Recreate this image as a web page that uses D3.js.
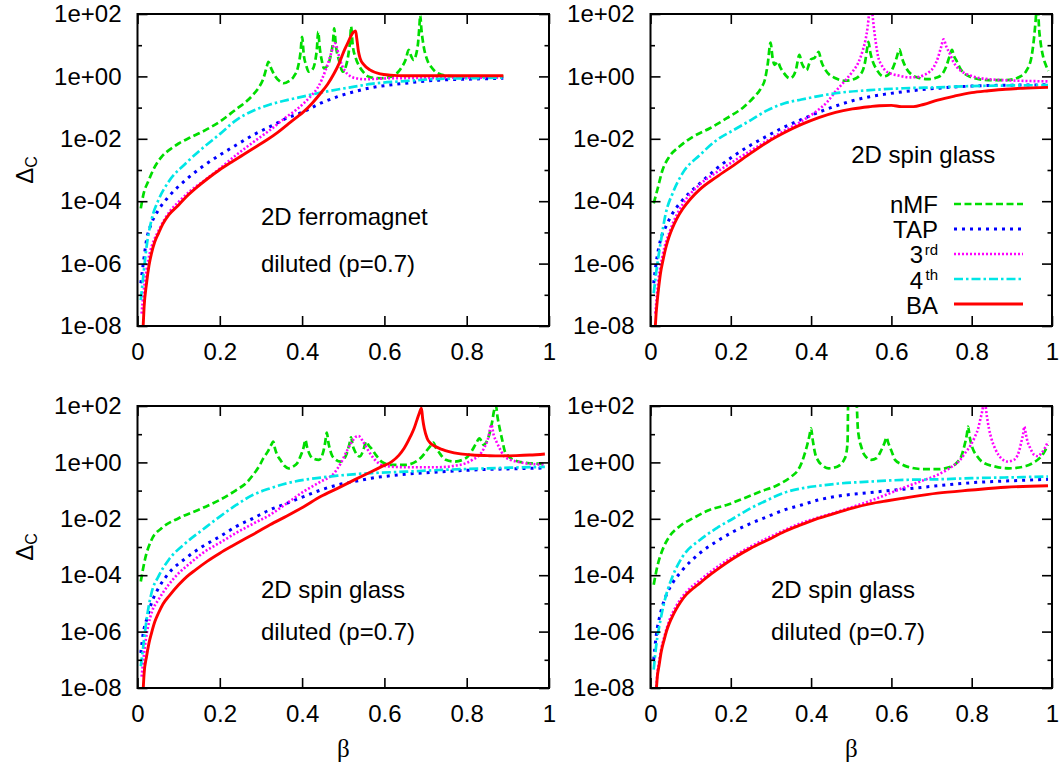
<!DOCTYPE html>
<html><head><meta charset="utf-8">
<script src="https://cdn.jsdelivr.net/npm/d3@7"></script>
<style>body{margin:0;background:#fff}</style>
</head><body><svg id="c" width="1063" height="764"></svg>
<script>
// ---------- axis ticks ----------
const xTicks = [0, 0.2, 0.4, 0.6, 0.8, 1];
const xTickLabels = ["0", "0.2", "0.4", "0.6", "0.8", "1"];
const yMajorTicks = [1e2, 1e0, 1e-2, 1e-4, 1e-6, 1e-8];
const yMajorLabels = ["1e+02", "1e+00", "1e-02", "1e-04", "1e-06", "1e-08"];
const yMinorTicks = [1e1, 1e-1, 1e-3, 1e-5, 1e-7];
const seriesNames = ["nMF", "TAP", "3rd", "4th", "BA"];

// ---------- data: [beta, log10(Delta_C)] ----------
// Panel 1: 2D ferromagnet, diluted (p=0.7)
const P1_nMF = [[0.008,-4.23],[0.015,-3.75],[0.026,-3.37],[0.04,-2.95],[0.059,-2.57],[0.08,-2.33],[0.10,-2.15],[0.13,-1.95],[0.158,-1.77],[0.20,-1.45],[0.24,-1.05],[0.265,-0.8],[0.28,-0.6],[0.295,-0.35],[0.305,-0.1],[0.313,0.25],[0.318,0.47],[0.325,0.25],[0.335,0.0],[0.345,-0.15],[0.355,-0.22],[0.368,-0.15],[0.38,0.0],[0.39,0.3],[0.396,0.75],[0.400,1.27],[0.404,0.7],[0.41,0.35],[0.416,0.15],[0.425,0.22],[0.432,0.5],[0.436,0.9],[0.439,1.43],[0.443,0.9],[0.448,0.5],[0.453,0.26],[0.462,0.35],[0.47,0.7],[0.475,1.1],[0.478,1.54],[0.482,1.0],[0.49,0.5],[0.499,0.15],[0.507,0.35],[0.513,0.75],[0.517,1.2],[0.519,1.60],[0.523,1.0],[0.53,0.6],[0.54,0.30],[0.55,0.12],[0.56,0.0],[0.575,-0.05],[0.593,-0.06],[0.61,-0.03],[0.626,0.05],[0.64,0.25],[0.652,0.55],[0.659,0.85],[0.665,0.65],[0.671,0.53],[0.677,0.7],[0.682,1.1],[0.685,1.6],[0.687,1.97],[0.690,1.5],[0.695,1.0],[0.704,0.53],[0.714,0.3],[0.724,0.15],[0.74,0.05],[0.757,0.01],[0.80,0.0],[0.85,0.0],[0.889,0.0]];
const P1_TAP = [[0.008,-6.63],[0.014,-6.0],[0.022,-5.24],[0.034,-4.71],[0.051,-4.28],[0.076,-3.85],[0.117,-3.32],[0.158,-2.89],[0.2,-2.52],[0.24,-2.2],[0.281,-1.88],[0.322,-1.61],[0.363,-1.34],[0.404,-1.13],[0.445,-0.86],[0.486,-0.65],[0.527,-0.49],[0.568,-0.36],[0.61,-0.28],[0.65,-0.22],[0.7,-0.15],[0.733,-0.12],[0.8,-0.09],[0.889,-0.06]];
const P1_3rd = [[0.01,-7.6],[0.015,-6.9],[0.022,-6.2],[0.03,-5.65],[0.04,-5.25],[0.051,-4.95],[0.065,-4.6],[0.08,-4.3],[0.1,-4.02],[0.13,-3.65],[0.158,-3.38],[0.2,-2.95],[0.24,-2.52],[0.28,-2.12],[0.322,-1.72],[0.363,-1.29],[0.385,-1.08],[0.404,-0.86],[0.422,-0.62],[0.437,-0.38],[0.448,-0.1],[0.457,0.2],[0.465,0.5],[0.472,0.8],[0.477,1.0],[0.48,1.06],[0.484,0.95],[0.49,0.63],[0.497,0.35],[0.503,0.2],[0.51,0.08],[0.519,-0.01],[0.535,-0.07],[0.552,-0.09],[0.58,-0.08],[0.61,-0.06],[0.7,-0.05],[0.8,-0.04],[0.889,-0.04]];
const P1_4th = [[0.008,-7.17],[0.014,-6.4],[0.022,-5.46],[0.034,-4.6],[0.051,-3.96],[0.076,-3.37],[0.117,-2.79],[0.158,-2.3],[0.2,-1.85],[0.24,-1.4],[0.281,-1.1],[0.322,-0.9],[0.363,-0.76],[0.404,-0.64],[0.445,-0.52],[0.486,-0.42],[0.527,-0.33],[0.568,-0.24],[0.65,-0.15],[0.733,-0.08],[0.8,-0.06],[0.889,-0.04]];
const P1_BA = [[0.013,-8.2],[0.016,-7.4],[0.022,-6.63],[0.028,-6.05],[0.034,-5.67],[0.042,-5.3],[0.051,-5.03],[0.062,-4.72],[0.076,-4.44],[0.1,-4.12],[0.12,-3.84],[0.141,-3.59],[0.17,-3.28],[0.199,-3.0],[0.228,-2.75],[0.256,-2.52],[0.285,-2.28],[0.314,-2.04],[0.34,-1.8],[0.363,-1.56],[0.385,-1.33],[0.404,-1.13],[0.425,-0.85],[0.445,-0.54],[0.462,-0.25],[0.478,0.1],[0.49,0.42],[0.503,0.85],[0.512,1.1],[0.519,1.3],[0.525,1.42],[0.530,1.46],[0.533,1.2],[0.537,0.8],[0.541,0.58],[0.55,0.38],[0.565,0.21],[0.59,0.08],[0.614,0.04],[0.65,0.02],[0.7,0.02],[0.8,0.02],[0.889,0.02]];

// Panel 2: 2D spin glass
const P2_nMF = [[0.008,-4.07],[0.017,-3.64],[0.03,-3.0],[0.047,-2.57],[0.072,-2.25],[0.106,-1.93],[0.148,-1.66],[0.19,-1.34],[0.233,-0.97],[0.255,-0.7],[0.275,-0.38],[0.285,-0.1],[0.292,0.4],[0.299,1.08],[0.304,0.6],[0.309,0.37],[0.317,0.47],[0.323,0.3],[0.33,0.15],[0.347,-0.06],[0.355,0.0],[0.362,0.2],[0.371,0.69],[0.376,0.45],[0.381,0.31],[0.389,0.2],[0.395,0.4],[0.4,0.55],[0.409,0.6],[0.414,0.7],[0.419,0.79],[0.425,0.5],[0.436,0.2],[0.461,-0.06],[0.486,-0.14],[0.512,-0.06],[0.522,0.05],[0.529,0.2],[0.535,0.5],[0.539,0.85],[0.543,1.11],[0.547,0.8],[0.553,0.5],[0.562,0.25],[0.58,0.0],[0.592,0.05],[0.605,0.31],[0.613,0.6],[0.62,0.87],[0.626,0.6],[0.635,0.31],[0.651,0.05],[0.67,-0.05],[0.69,-0.09],[0.715,-0.03],[0.728,0.1],[0.736,0.3],[0.745,0.65],[0.751,0.85],[0.756,0.65],[0.761,0.53],[0.774,0.2],[0.8,-0.03],[0.842,-0.12],[0.887,-0.12],[0.92,-0.01],[0.937,0.2],[0.949,0.63],[0.955,1.2],[0.958,1.6],[0.962,2.1],[0.965,2.1],[0.968,1.5],[0.972,1.05],[0.978,0.63],[0.985,0.35],[0.991,0.18]];
const P2_TAP = [[0.008,-6.63],[0.014,-5.99],[0.025,-5.24],[0.038,-4.82],[0.055,-4.39],[0.08,-3.96],[0.123,-3.43],[0.165,-2.95],[0.207,-2.55],[0.25,-2.2],[0.292,-1.9],[0.334,-1.62],[0.376,-1.38],[0.419,-1.15],[0.461,-0.95],[0.503,-0.78],[0.546,-0.65],[0.59,-0.56],[0.63,-0.49],[0.715,-0.38],[0.8,-0.31],[0.9,-0.28],[0.99,-0.27]];
const P2_3rd = [[0.012,-7.6],[0.02,-6.5],[0.03,-5.75],[0.05,-4.9],[0.08,-4.1],[0.12,-3.5],[0.165,-3.07],[0.207,-2.72],[0.25,-2.38],[0.292,-2.05],[0.334,-1.74],[0.376,-1.44],[0.41,-1.15],[0.44,-0.82],[0.461,-0.48],[0.486,-0.12],[0.503,0.15],[0.518,0.45],[0.529,0.85],[0.536,1.2],[0.541,1.6],[0.545,2.1],[0.548,2.5],[0.552,2.1],[0.556,1.6],[0.561,1.1],[0.567,0.63],[0.575,0.38],[0.584,0.2],[0.6,0.08],[0.613,0.04],[0.647,-0.03],[0.665,-0.02],[0.681,0.04],[0.695,0.15],[0.706,0.31],[0.716,0.6],[0.724,0.95],[0.73,1.19],[0.737,0.95],[0.745,0.74],[0.755,0.45],[0.766,0.26],[0.783,0.1],[0.8,0.01],[0.842,-0.09],[0.9,-0.13],[0.99,-0.16]];
const P2_4th = [[0.008,-6.95],[0.014,-6.3],[0.025,-5.35],[0.038,-4.39],[0.055,-3.75],[0.08,-3.1],[0.123,-2.52],[0.165,-2.04],[0.207,-1.72],[0.25,-1.4],[0.292,-1.08],[0.334,-0.86],[0.376,-0.74],[0.419,-0.63],[0.461,-0.54],[0.546,-0.44],[0.63,-0.38],[0.715,-0.35],[0.8,-0.31],[0.9,-0.29],[0.99,-0.28]];
const P2_BA = [[0.011,-8.2],[0.014,-7.6],[0.017,-7.17],[0.021,-6.7],[0.025,-6.3],[0.031,-5.9],[0.038,-5.5],[0.046,-5.15],[0.055,-4.85],[0.066,-4.55],[0.08,-4.25],[0.1,-3.92],[0.123,-3.62],[0.165,-3.22],[0.207,-2.85],[0.25,-2.46],[0.292,-2.1],[0.334,-1.8],[0.376,-1.54],[0.419,-1.32],[0.461,-1.15],[0.503,-1.04],[0.546,-0.97],[0.57,-0.94],[0.6,-0.93],[0.625,-0.97],[0.655,-0.97],[0.68,-0.9],[0.715,-0.76],[0.757,-0.63],[0.8,-0.52],[0.842,-0.46],[0.884,-0.41],[0.926,-0.38],[0.99,-0.35]];

// Panel 3: 2D spin glass, diluted (p=0.7)
const P3_nMF = [[0.008,-4.22],[0.018,-3.45],[0.034,-2.75],[0.059,-2.33],[0.1,-1.98],[0.158,-1.62],[0.2,-1.33],[0.24,-0.98],[0.265,-0.72],[0.281,-0.44],[0.295,-0.15],[0.306,0.15],[0.318,0.42],[0.326,0.65],[0.33,0.74],[0.334,0.5],[0.34,0.25],[0.347,0.09],[0.357,-0.12],[0.367,-0.21],[0.378,-0.15],[0.388,-0.03],[0.397,0.25],[0.404,0.55],[0.408,0.8],[0.412,0.55],[0.418,0.3],[0.425,0.15],[0.441,0.09],[0.45,0.3],[0.456,0.7],[0.46,1.06],[0.464,0.7],[0.469,0.4],[0.474,0.21],[0.494,0.03],[0.508,0.3],[0.515,0.65],[0.519,0.89],[0.523,0.6],[0.527,0.44],[0.533,0.28],[0.54,0.21],[0.548,0.4],[0.556,0.74],[0.562,0.6],[0.568,0.5],[0.58,0.25],[0.593,0.03],[0.618,-0.09],[0.65,-0.09],[0.683,0.09],[0.697,0.3],[0.704,0.44],[0.713,0.6],[0.719,0.7],[0.725,0.52],[0.733,0.35],[0.749,0.09],[0.77,0.03],[0.798,0.15],[0.812,0.4],[0.822,0.65],[0.831,0.85],[0.837,0.72],[0.841,0.62],[0.847,0.7],[0.856,1.05],[0.862,1.45],[0.866,1.8],[0.871,2.02],[0.875,1.6],[0.881,1.15],[0.887,0.75],[0.893,0.38],[0.903,0.2],[0.913,0.09],[0.953,-0.03],[0.99,-0.05]];
const P3_TAP = [[0.008,-6.76],[0.014,-6.05],[0.022,-5.58],[0.034,-4.99],[0.051,-4.46],[0.076,-3.93],[0.117,-3.4],[0.158,-2.98],[0.2,-2.63],[0.24,-2.27],[0.281,-1.98],[0.322,-1.68],[0.363,-1.45],[0.404,-1.21],[0.445,-0.98],[0.486,-0.8],[0.527,-0.68],[0.568,-0.56],[0.61,-0.48],[0.65,-0.42],[0.733,-0.34],[0.814,-0.27],[0.9,-0.23],[0.99,-0.2]];
const P3_3rd = [[0.01,-7.6],[0.015,-6.9],[0.02,-6.3],[0.026,-5.8],[0.035,-5.3],[0.051,-4.87],[0.075,-4.35],[0.1,-3.93],[0.13,-3.55],[0.158,-3.22],[0.2,-2.85],[0.24,-2.5],[0.28,-2.18],[0.322,-1.86],[0.363,-1.45],[0.404,-1.03],[0.445,-0.68],[0.478,-0.38],[0.494,-0.03],[0.51,0.44],[0.522,0.75],[0.53,0.9],[0.537,0.94],[0.548,0.74],[0.56,0.44],[0.577,0.09],[0.601,-0.13],[0.65,-0.17],[0.733,-0.17],[0.77,-0.12],[0.798,-0.03],[0.815,0.1],[0.831,0.26],[0.842,0.5],[0.852,0.85],[0.86,1.33],[0.866,0.95],[0.872,0.74],[0.88,0.5],[0.889,0.26],[0.905,0.1],[0.922,0.03],[0.953,-0.05],[0.99,-0.08]];
const P3_4th = [[0.008,-7.23],[0.014,-6.52],[0.022,-5.58],[0.034,-4.63],[0.051,-4.04],[0.076,-3.45],[0.117,-2.86],[0.158,-2.39],[0.2,-1.92],[0.24,-1.51],[0.281,-1.15],[0.322,-0.92],[0.363,-0.74],[0.404,-0.62],[0.445,-0.54],[0.486,-0.47],[0.568,-0.38],[0.65,-0.33],[0.733,-0.27],[0.85,-0.21],[0.953,-0.17],[0.99,-0.16]];
const P3_BA = [[0.013,-8.3],[0.016,-7.5],[0.022,-6.88],[0.028,-6.4],[0.034,-6.05],[0.042,-5.65],[0.051,-5.34],[0.062,-5.02],[0.076,-4.75],[0.1,-4.34],[0.12,-4.05],[0.141,-3.81],[0.17,-3.5],[0.2,-3.22],[0.228,-2.98],[0.256,-2.75],[0.29,-2.48],[0.322,-2.21],[0.363,-1.9],[0.404,-1.57],[0.445,-1.21],[0.486,-0.92],[0.527,-0.62],[0.568,-0.33],[0.593,-0.15],[0.618,0.03],[0.635,0.25],[0.648,0.5],[0.663,0.91],[0.672,1.2],[0.679,1.5],[0.685,1.75],[0.69,1.92],[0.693,1.55],[0.697,1.2],[0.704,0.85],[0.712,0.68],[0.724,0.56],[0.74,0.46],[0.757,0.38],[0.785,0.3],[0.814,0.26],[0.85,0.24],[0.88,0.23],[0.92,0.24],[0.953,0.26],[0.99,0.3]];

// Panel 4: 2D spin glass, diluted (p=0.7)
const P4_nMF = [[0.008,-4.34],[0.017,-3.69],[0.03,-3.1],[0.047,-2.63],[0.072,-2.27],[0.106,-1.98],[0.148,-1.68],[0.19,-1.51],[0.233,-1.27],[0.275,-1.03],[0.317,-0.8],[0.351,-0.5],[0.366,-0.3],[0.376,-0.03],[0.384,0.3],[0.39,0.6],[0.396,0.95],[0.4,1.21],[0.404,0.8],[0.41,0.32],[0.418,0.05],[0.427,-0.09],[0.444,-0.21],[0.465,-0.15],[0.482,0.09],[0.488,0.35],[0.491,0.8],[0.492,2.0],[0.494,3],[0.512,3],[0.514,2.0],[0.516,1.3],[0.519,0.91],[0.525,0.55],[0.533,0.26],[0.55,0.09],[0.563,0.15],[0.575,0.44],[0.583,0.7],[0.588,0.89],[0.592,0.7],[0.596,0.56],[0.603,0.3],[0.609,0.09],[0.625,-0.06],[0.639,-0.15],[0.681,-0.24],[0.715,-0.24],[0.749,-0.15],[0.765,0.02],[0.774,0.21],[0.782,0.6],[0.788,1.0],[0.791,1.27],[0.795,0.9],[0.8,0.6],[0.804,0.44],[0.812,0.25],[0.825,0.03],[0.859,-0.15],[0.893,-0.21],[0.935,-0.13],[0.955,0.0],[0.969,0.15],[0.98,0.35],[0.99,0.62]];
const P4_TAP = [[0.008,-7.0],[0.014,-6.17],[0.025,-5.34],[0.038,-4.75],[0.055,-4.28],[0.08,-3.81],[0.123,-3.22],[0.165,-2.8],[0.207,-2.45],[0.25,-2.16],[0.292,-1.92],[0.334,-1.68],[0.376,-1.51],[0.419,-1.33],[0.461,-1.21],[0.546,-1.07],[0.63,-0.95],[0.715,-0.83],[0.8,-0.72],[0.884,-0.66],[0.99,-0.6]];
const P4_3rd = [[0.014,-8.1],[0.017,-7.5],[0.021,-7.1],[0.027,-6.6],[0.034,-6.2],[0.047,-5.6],[0.063,-5.12],[0.089,-4.6],[0.123,-4.18],[0.165,-3.72],[0.207,-3.33],[0.25,-2.98],[0.292,-2.68],[0.334,-2.4],[0.376,-2.15],[0.419,-1.95],[0.461,-1.77],[0.503,-1.58],[0.546,-1.37],[0.59,-1.13],[0.63,-0.9],[0.675,-0.66],[0.715,-0.44],[0.74,-0.25],[0.757,-0.09],[0.772,0.1],[0.783,0.32],[0.797,0.6],[0.808,0.91],[0.816,1.2],[0.821,1.5],[0.826,1.8],[0.832,2.2],[0.838,1.62],[0.843,1.2],[0.85,0.8],[0.858,0.5],[0.867,0.26],[0.877,0.1],[0.888,0.03],[0.9,0.06],[0.91,0.15],[0.918,0.4],[0.924,0.75],[0.928,1.0],[0.931,1.27],[0.935,1.0],[0.939,0.74],[0.946,0.5],[0.956,0.26],[0.965,0.22],[0.973,0.32],[0.982,0.5],[0.99,0.74]];
const P4_4th = [[0.008,-7.35],[0.014,-6.52],[0.025,-5.58],[0.038,-4.75],[0.055,-4.04],[0.08,-3.34],[0.123,-2.75],[0.165,-2.33],[0.207,-1.98],[0.25,-1.62],[0.292,-1.33],[0.334,-1.07],[0.376,-0.92],[0.419,-0.83],[0.461,-0.76],[0.546,-0.68],[0.63,-0.62],[0.715,-0.6],[0.8,-0.56],[0.9,-0.53],[0.99,-0.5]];
const P4_BA = [[0.014,-8.2],[0.017,-7.6],[0.021,-7.23],[0.027,-6.7],[0.034,-6.29],[0.04,-5.98],[0.047,-5.7],[0.055,-5.45],[0.063,-5.23],[0.075,-4.95],[0.089,-4.69],[0.105,-4.48],[0.123,-4.28],[0.145,-4.02],[0.165,-3.81],[0.207,-3.4],[0.25,-3.04],[0.292,-2.75],[0.334,-2.45],[0.376,-2.21],[0.419,-1.98],[0.461,-1.8],[0.503,-1.62],[0.546,-1.47],[0.59,-1.36],[0.63,-1.27],[0.715,-1.09],[0.8,-0.98],[0.884,-0.88],[0.99,-0.83]];

// Annotation texts per panel
const P1_notes = ["2D ferromagnet", "diluted (p=0.7)"];
const P2_notes = ["2D spin glass"];
const P3_notes = ["2D spin glass", "diluted (p=0.7)"];
const P4_notes = ["2D spin glass", "diluted (p=0.7)"];

// ---------- presentation ----------
const FONT = "'Liberation Sans', Arial, Helvetica, sans-serif";
const styles = {
  nMF: {c: "#00dd00", d: "7,3.5", w: 2.7},
  TAP: {c: "#0000ff", d: "3,5", w: 3},
  "3rd": {c: "#ff00ff", d: "2,2", w: 2.6},
  "4th": {c: "#00e6e6", d: "9,3,2.5,3", w: 2.7},
  BA: {c: "#ff0000", d: null, w: 2.9}
};
const layout = [
  {x0: 137.5, x1: 549, y0: 14, y1: 326, series: [P1_nMF, P1_TAP, P1_3rd, P1_4th, P1_BA], notes: P1_notes, nx: 0.3, ny: [0.35, 0.2], yl: true, xl: false},
  {x0: 650.5, x1: 1052, y0: 14, y1: 326, series: [P2_nMF, P2_TAP, P2_3rd, P2_4th, P2_BA], notes: P2_notes, nx: 0.5, ny: [0.55], yl: false, xl: false, legend: true},
  {x0: 137.5, x1: 549, y0: 406, y1: 688, series: [P3_nMF, P3_TAP, P3_3rd, P3_4th, P3_BA], notes: P3_notes, nx: 0.3, ny: [0.35, 0.2], yl: true, xl: true},
  {x0: 650.5, x1: 1052, y0: 406, y1: 688, series: [P4_nMF, P4_TAP, P4_3rd, P4_4th, P4_BA], notes: P4_notes, nx: 0.3, ny: [0.35, 0.2], yl: false, xl: true}
];
// legend text baselines relative to each row's sample line
const legendMainDy = [8.5, 8.5, 9, 9.5, 10];
const legendSupDy = [0, 0, 0.5, 0.5, 0];

const svg = d3.select("#c");
const defs = svg.append("defs");

function styleAxis(g) {
  g.attr("font-family", FONT).attr("font-size", 24);
  g.select(".domain").remove();
  g.selectAll(".tick line").attr("stroke", "#000").attr("stroke-width", 1.6);
  g.selectAll("text").attr("fill", "#000");
}

layout.forEach((p, i) => {
  const x = d3.scaleLinear().domain([0, 1]).range([p.x0, p.x1]);
  const y = d3.scaleLog().domain([1e-8, 1e2]).range([p.y1, p.y0]);
  const g = svg.append("g");

  defs.append("clipPath").attr("id", "clip" + i)
    .append("rect").attr("x", p.x0).attr("y", p.y0)
    .attr("width", p.x1 - p.x0).attr("height", p.y1 - p.y0);

  // curves
  const line = d3.line()
    .x(d => x(d[0]))
    .y(d => y(Math.pow(10, d[1])))
    .curve(d3.curveMonotoneX);
  const cg = g.append("g").attr("clip-path", `url(#clip${i})`);
  p.series.forEach((s, k) => {
    const st = styles[seriesNames[k]];
    cg.append("path").datum(s).attr("d", line)
      .attr("fill", "none").attr("stroke", st.c).attr("stroke-width", st.w)
      .attr("stroke-dasharray", st.d).attr("stroke-linejoin", "round");
  });

  // axes (ticks inward, mirrored)
  g.append("g").attr("transform", `translate(${p.x0},0)`)
    .call(d3.axisLeft(y).tickValues(yMajorTicks).tickFormat((d, j) => yMajorLabels[j]).tickSizeInner(-10).tickSizeOuter(0).tickPadding(16))
    .call(styleAxis);
  g.append("g").attr("transform", `translate(${p.x0},0)`)
    .call(d3.axisLeft(y).tickValues(yMinorTicks).tickFormat("").tickSizeInner(-4.5).tickSizeOuter(0))
    .call(styleAxis);
  g.append("g").attr("transform", `translate(${p.x1},0)`)
    .call(d3.axisRight(y).tickValues(yMajorTicks).tickFormat("").tickSizeInner(-10).tickSizeOuter(0))
    .call(styleAxis);
  g.append("g").attr("transform", `translate(${p.x1},0)`)
    .call(d3.axisRight(y).tickValues(yMinorTicks).tickFormat("").tickSizeInner(-4.5).tickSizeOuter(0))
    .call(styleAxis);
  g.append("g").attr("transform", `translate(0,${p.y1})`)
    .call(d3.axisBottom(x).tickValues(xTicks).tickFormat((d, j) => xTickLabels[j]).tickSizeInner(-10).tickSizeOuter(0).tickPadding(17))
    .call(styleAxis);
  g.append("g").attr("transform", `translate(0,${p.y0})`)
    .call(d3.axisTop(x).tickValues(xTicks).tickFormat("").tickSizeInner(-10).tickSizeOuter(0))
    .call(styleAxis);

  // frame
  g.append("rect").attr("x", p.x0).attr("y", p.y0)
    .attr("width", p.x1 - p.x0).attr("height", p.y1 - p.y0)
    .attr("fill", "none").attr("stroke", "#000").attr("stroke-width", 2);

  // annotations
  p.notes.forEach((t, j) => {
    const yy = p.y1 - p.ny[j] * (p.y1 - p.y0) + 8.5;
    g.append("text").attr("x", x(p.nx)).attr("y", yy)
      .attr("font-family", FONT).attr("font-size", 24).text(t);
  });

  // axis titles
  if (p.yl) {
    const t = g.append("text")
      .attr("transform", `translate(33,${(p.y0 + p.y1) / 2}) rotate(-90)`)
      .attr("text-anchor", "middle").attr("font-family", FONT).attr("font-size", 24);
    t.append("tspan").text("Δ");
    t.append("tspan").attr("font-size", 16).attr("dy", 4).text("C");
  }
  if (p.xl) {
    g.append("text").attr("x", (p.x0 + p.x1) / 2).attr("y", 757)
      .attr("text-anchor", "middle").attr("font-family", "'Liberation Serif', 'Times New Roman', serif")
      .attr("font-size", 25).text("β");
  }

  // legend
  if (p.legend) {
    const lg = g.append("g");
    seriesNames.forEach((n, k) => {
      const st = styles[n];
      const ly = 204 + k * 25;
      const sup = (n === "3rd" || n === "4th");
      if (sup) {
        lg.append("text").attr("x", 938).attr("y", ly + legendSupDy[k])
          .attr("text-anchor", "end").attr("font-family", FONT).attr("font-size", 15)
          .text(n.slice(1));
        lg.append("text").attr("x", 923).attr("y", ly + legendMainDy[k])
          .attr("text-anchor", "end").attr("font-family", FONT).attr("font-size", 24)
          .text(n[0]);
      } else {
        lg.append("text").attr("x", 938).attr("y", ly + legendMainDy[k])
          .attr("text-anchor", "end").attr("font-family", FONT).attr("font-size", 24).text(n);
      }
      lg.append("line").attr("x1", 954).attr("x2", 1023).attr("y1", ly).attr("y2", ly)
        .attr("stroke", st.c).attr("stroke-width", st.w).attr("stroke-dasharray", st.d);
    });
  }
});
</script></body></html>
